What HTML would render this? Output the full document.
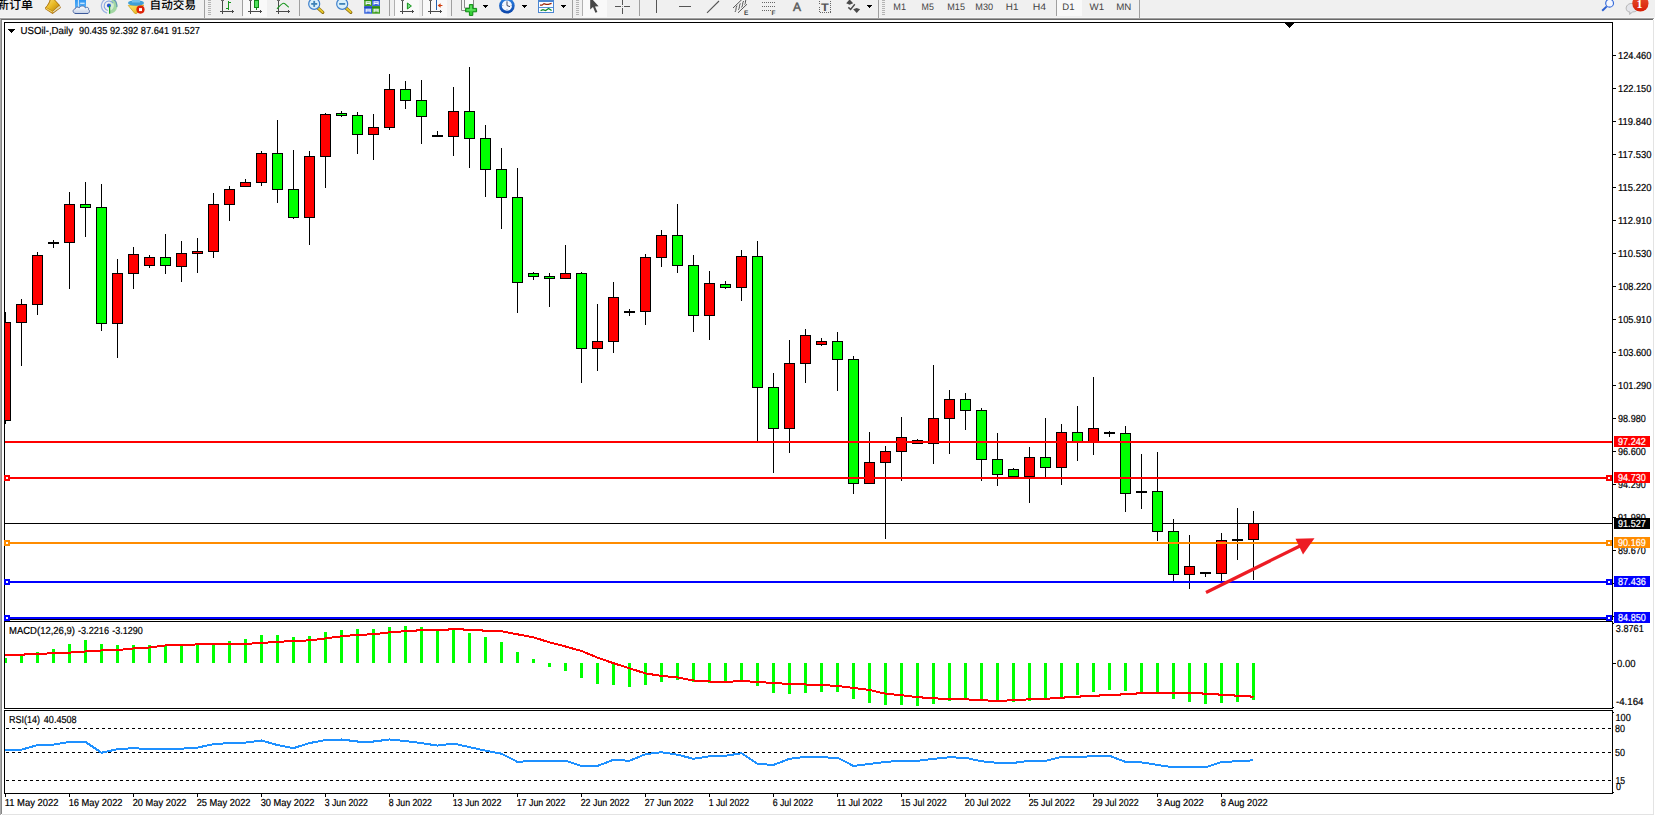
<!DOCTYPE html>
<html lang="zh"><head><meta charset="utf-8"><title>USOil Daily</title>
<style>html,body{margin:0;padding:0;background:#fff;overflow:hidden}svg{display:block}text{white-space:pre}</style></head>
<body>
<svg width="1655" height="816" viewBox="0 0 1655 816" font-family="Liberation Sans, sans-serif" shape-rendering="crispEdges" text-rendering="geometricPrecision">
<rect x="0" y="0" width="1655" height="816" fill="#fff"/>
<rect x="4" y="22" width="1609" height="1" fill="#000"/>
<rect x="4" y="22" width="1" height="598" fill="#000"/>
<rect x="4" y="621" width="1" height="88" fill="#000"/>
<rect x="4" y="710" width="1" height="84" fill="#000"/>
<rect x="1612" y="22" width="1" height="598" fill="#000"/>
<rect x="1612" y="621" width="1" height="88" fill="#000"/>
<rect x="1612" y="710" width="1" height="84" fill="#000"/>
<rect x="4" y="619" width="1609" height="1" fill="#000"/>
<rect x="4" y="621" width="1609" height="1" fill="#000"/>
<rect x="4" y="708" width="1609" height="1" fill="#000"/>
<rect x="4" y="710" width="1609" height="1" fill="#000"/>
<rect x="4" y="793" width="1609" height="1" fill="#000"/>
<polygon points="1284.5,23 1294.5,23 1289.5,28.5" fill="#000"/>
<rect x="5" y="523" width="1607" height="1" fill="#000"/>
<rect x="5" y="312" width="1" height="112" fill="#000"/>
<rect x="5" y="322" width="6" height="99" fill="#000"/>
<rect x="5" y="323" width="5" height="97" fill="#f00"/>
<rect x="21" y="299" width="1" height="67" fill="#000"/>
<rect x="16" y="304" width="11" height="19" fill="#000"/>
<rect x="17" y="305" width="9" height="17" fill="#f00"/>
<rect x="37" y="252" width="1" height="63" fill="#000"/>
<rect x="32" y="255" width="11" height="50" fill="#000"/>
<rect x="33" y="256" width="9" height="48" fill="#f00"/>
<rect x="53" y="240" width="1" height="8" fill="#000"/>
<rect x="48" y="242" width="11" height="2" fill="#000"/>
<rect x="69" y="192" width="1" height="97" fill="#000"/>
<rect x="64" y="204" width="11" height="39" fill="#000"/>
<rect x="65" y="205" width="9" height="37" fill="#f00"/>
<rect x="85" y="182" width="1" height="55" fill="#000"/>
<rect x="80" y="204" width="11" height="4" fill="#000"/>
<rect x="81" y="205" width="9" height="2" fill="#0f0"/>
<rect x="101" y="184" width="1" height="147" fill="#000"/>
<rect x="96" y="207" width="11" height="117" fill="#000"/>
<rect x="97" y="208" width="9" height="115" fill="#0f0"/>
<rect x="117" y="259" width="1" height="99" fill="#000"/>
<rect x="112" y="273" width="11" height="51" fill="#000"/>
<rect x="113" y="274" width="9" height="49" fill="#f00"/>
<rect x="133" y="247" width="1" height="42" fill="#000"/>
<rect x="128" y="254" width="11" height="20" fill="#000"/>
<rect x="129" y="255" width="9" height="18" fill="#f00"/>
<rect x="149" y="255" width="1" height="13" fill="#000"/>
<rect x="144" y="257" width="11" height="9" fill="#000"/>
<rect x="145" y="258" width="9" height="7" fill="#f00"/>
<rect x="165" y="234" width="1" height="40" fill="#000"/>
<rect x="160" y="257" width="11" height="9" fill="#000"/>
<rect x="161" y="258" width="9" height="7" fill="#0f0"/>
<rect x="181" y="241" width="1" height="41" fill="#000"/>
<rect x="176" y="253" width="11" height="14" fill="#000"/>
<rect x="177" y="254" width="9" height="12" fill="#f00"/>
<rect x="197" y="238" width="1" height="35" fill="#000"/>
<rect x="192" y="251" width="11" height="3" fill="#000"/>
<rect x="193" y="252" width="9" height="1" fill="#f00"/>
<rect x="213" y="193" width="1" height="65" fill="#000"/>
<rect x="208" y="204" width="11" height="48" fill="#000"/>
<rect x="209" y="205" width="9" height="46" fill="#f00"/>
<rect x="229" y="186" width="1" height="35" fill="#000"/>
<rect x="224" y="189" width="11" height="16" fill="#000"/>
<rect x="225" y="190" width="9" height="14" fill="#f00"/>
<rect x="245" y="179" width="1" height="8" fill="#000"/>
<rect x="240" y="182" width="11" height="5" fill="#000"/>
<rect x="241" y="183" width="9" height="3" fill="#f00"/>
<rect x="261" y="151" width="1" height="35" fill="#000"/>
<rect x="256" y="153" width="11" height="30" fill="#000"/>
<rect x="257" y="154" width="9" height="28" fill="#f00"/>
<rect x="277" y="120" width="1" height="83" fill="#000"/>
<rect x="272" y="153" width="11" height="37" fill="#000"/>
<rect x="273" y="154" width="9" height="35" fill="#0f0"/>
<rect x="293" y="150" width="1" height="69" fill="#000"/>
<rect x="288" y="189" width="11" height="29" fill="#000"/>
<rect x="289" y="190" width="9" height="27" fill="#0f0"/>
<rect x="309" y="151" width="1" height="94" fill="#000"/>
<rect x="304" y="156" width="11" height="62" fill="#000"/>
<rect x="305" y="157" width="9" height="60" fill="#f00"/>
<rect x="325" y="113" width="1" height="75" fill="#000"/>
<rect x="320" y="114" width="11" height="43" fill="#000"/>
<rect x="321" y="115" width="9" height="41" fill="#f00"/>
<rect x="341" y="111" width="1" height="6" fill="#000"/>
<rect x="336" y="113" width="11" height="3" fill="#000"/>
<rect x="337" y="114" width="9" height="1" fill="#0f0"/>
<rect x="357" y="112" width="1" height="42" fill="#000"/>
<rect x="352" y="115" width="11" height="20" fill="#000"/>
<rect x="353" y="116" width="9" height="18" fill="#0f0"/>
<rect x="373" y="114" width="1" height="46" fill="#000"/>
<rect x="368" y="127" width="11" height="8" fill="#000"/>
<rect x="369" y="128" width="9" height="6" fill="#f00"/>
<rect x="389" y="74" width="1" height="56" fill="#000"/>
<rect x="384" y="89" width="11" height="39" fill="#000"/>
<rect x="385" y="90" width="9" height="37" fill="#f00"/>
<rect x="405" y="81" width="1" height="28" fill="#000"/>
<rect x="400" y="89" width="11" height="12" fill="#000"/>
<rect x="401" y="90" width="9" height="10" fill="#0f0"/>
<rect x="421" y="80" width="1" height="64" fill="#000"/>
<rect x="416" y="100" width="11" height="17" fill="#000"/>
<rect x="417" y="101" width="9" height="15" fill="#0f0"/>
<rect x="437" y="131" width="1" height="6" fill="#000"/>
<rect x="432" y="135" width="11" height="2" fill="#000"/>
<rect x="453" y="87" width="1" height="69" fill="#000"/>
<rect x="448" y="111" width="11" height="26" fill="#000"/>
<rect x="449" y="112" width="9" height="24" fill="#f00"/>
<rect x="469" y="67" width="1" height="101" fill="#000"/>
<rect x="464" y="111" width="11" height="28" fill="#000"/>
<rect x="465" y="112" width="9" height="26" fill="#0f0"/>
<rect x="485" y="125" width="1" height="72" fill="#000"/>
<rect x="480" y="138" width="11" height="32" fill="#000"/>
<rect x="481" y="139" width="9" height="30" fill="#0f0"/>
<rect x="501" y="148" width="1" height="81" fill="#000"/>
<rect x="496" y="169" width="11" height="29" fill="#000"/>
<rect x="497" y="170" width="9" height="27" fill="#0f0"/>
<rect x="517" y="168" width="1" height="145" fill="#000"/>
<rect x="512" y="197" width="11" height="86" fill="#000"/>
<rect x="513" y="198" width="9" height="84" fill="#0f0"/>
<rect x="533" y="272" width="1" height="8" fill="#000"/>
<rect x="528" y="273" width="11" height="4" fill="#000"/>
<rect x="529" y="274" width="9" height="2" fill="#0f0"/>
<rect x="549" y="273" width="1" height="34" fill="#000"/>
<rect x="544" y="276" width="11" height="3" fill="#000"/>
<rect x="545" y="277" width="9" height="1" fill="#0f0"/>
<rect x="565" y="245" width="1" height="34" fill="#000"/>
<rect x="560" y="273" width="11" height="6" fill="#000"/>
<rect x="561" y="274" width="9" height="4" fill="#f00"/>
<rect x="581" y="272" width="1" height="111" fill="#000"/>
<rect x="576" y="273" width="11" height="76" fill="#000"/>
<rect x="577" y="274" width="9" height="74" fill="#0f0"/>
<rect x="597" y="304" width="1" height="67" fill="#000"/>
<rect x="592" y="341" width="11" height="8" fill="#000"/>
<rect x="593" y="342" width="9" height="6" fill="#f00"/>
<rect x="613" y="282" width="1" height="71" fill="#000"/>
<rect x="608" y="297" width="11" height="45" fill="#000"/>
<rect x="609" y="298" width="9" height="43" fill="#f00"/>
<rect x="629" y="309" width="1" height="7" fill="#000"/>
<rect x="624" y="311" width="11" height="2" fill="#000"/>
<rect x="645" y="254" width="1" height="71" fill="#000"/>
<rect x="640" y="257" width="11" height="55" fill="#000"/>
<rect x="641" y="258" width="9" height="53" fill="#f00"/>
<rect x="661" y="230" width="1" height="37" fill="#000"/>
<rect x="656" y="235" width="11" height="23" fill="#000"/>
<rect x="657" y="236" width="9" height="21" fill="#f00"/>
<rect x="677" y="204" width="1" height="69" fill="#000"/>
<rect x="672" y="235" width="11" height="31" fill="#000"/>
<rect x="673" y="236" width="9" height="29" fill="#0f0"/>
<rect x="693" y="255" width="1" height="77" fill="#000"/>
<rect x="688" y="265" width="11" height="51" fill="#000"/>
<rect x="689" y="266" width="9" height="49" fill="#0f0"/>
<rect x="709" y="271" width="1" height="69" fill="#000"/>
<rect x="704" y="283" width="11" height="33" fill="#000"/>
<rect x="705" y="284" width="9" height="31" fill="#f00"/>
<rect x="725" y="281" width="1" height="8" fill="#000"/>
<rect x="720" y="284" width="11" height="4" fill="#000"/>
<rect x="721" y="285" width="9" height="2" fill="#0f0"/>
<rect x="741" y="250" width="1" height="51" fill="#000"/>
<rect x="736" y="256" width="11" height="32" fill="#000"/>
<rect x="737" y="257" width="9" height="30" fill="#f00"/>
<rect x="757" y="241" width="1" height="200" fill="#000"/>
<rect x="752" y="256" width="11" height="132" fill="#000"/>
<rect x="753" y="257" width="9" height="130" fill="#0f0"/>
<rect x="773" y="373" width="1" height="100" fill="#000"/>
<rect x="768" y="387" width="11" height="42" fill="#000"/>
<rect x="769" y="388" width="9" height="40" fill="#0f0"/>
<rect x="789" y="340" width="1" height="113" fill="#000"/>
<rect x="784" y="363" width="11" height="66" fill="#000"/>
<rect x="785" y="364" width="9" height="64" fill="#f00"/>
<rect x="805" y="329" width="1" height="54" fill="#000"/>
<rect x="800" y="335" width="11" height="29" fill="#000"/>
<rect x="801" y="336" width="9" height="27" fill="#f00"/>
<rect x="821" y="338" width="1" height="8" fill="#000"/>
<rect x="816" y="341" width="11" height="4" fill="#000"/>
<rect x="817" y="342" width="9" height="2" fill="#f00"/>
<rect x="837" y="332" width="1" height="59" fill="#000"/>
<rect x="832" y="341" width="11" height="19" fill="#000"/>
<rect x="833" y="342" width="9" height="17" fill="#0f0"/>
<rect x="853" y="356" width="1" height="138" fill="#000"/>
<rect x="848" y="359" width="11" height="125" fill="#000"/>
<rect x="849" y="360" width="9" height="123" fill="#0f0"/>
<rect x="869" y="432" width="1" height="52" fill="#000"/>
<rect x="864" y="462" width="11" height="22" fill="#000"/>
<rect x="865" y="463" width="9" height="20" fill="#f00"/>
<rect x="885" y="446" width="1" height="93" fill="#000"/>
<rect x="880" y="451" width="11" height="12" fill="#000"/>
<rect x="881" y="452" width="9" height="10" fill="#f00"/>
<rect x="901" y="417" width="1" height="64" fill="#000"/>
<rect x="896" y="437" width="11" height="15" fill="#000"/>
<rect x="897" y="438" width="9" height="13" fill="#f00"/>
<rect x="917" y="439" width="1" height="5" fill="#000"/>
<rect x="912" y="440" width="11" height="4" fill="#000"/>
<rect x="913" y="441" width="9" height="2" fill="#f00"/>
<rect x="933" y="365" width="1" height="99" fill="#000"/>
<rect x="928" y="418" width="11" height="26" fill="#000"/>
<rect x="929" y="419" width="9" height="24" fill="#f00"/>
<rect x="949" y="390" width="1" height="64" fill="#000"/>
<rect x="944" y="399" width="11" height="20" fill="#000"/>
<rect x="945" y="400" width="9" height="18" fill="#f00"/>
<rect x="965" y="393" width="1" height="37" fill="#000"/>
<rect x="960" y="399" width="11" height="12" fill="#000"/>
<rect x="961" y="400" width="9" height="10" fill="#0f0"/>
<rect x="981" y="408" width="1" height="73" fill="#000"/>
<rect x="976" y="410" width="11" height="50" fill="#000"/>
<rect x="977" y="411" width="9" height="48" fill="#0f0"/>
<rect x="997" y="433" width="1" height="53" fill="#000"/>
<rect x="992" y="459" width="11" height="16" fill="#000"/>
<rect x="993" y="460" width="9" height="14" fill="#0f0"/>
<rect x="1013" y="468" width="1" height="9" fill="#000"/>
<rect x="1008" y="469" width="11" height="8" fill="#000"/>
<rect x="1009" y="470" width="9" height="6" fill="#0f0"/>
<rect x="1029" y="447" width="1" height="56" fill="#000"/>
<rect x="1024" y="457" width="11" height="20" fill="#000"/>
<rect x="1025" y="458" width="9" height="18" fill="#f00"/>
<rect x="1045" y="418" width="1" height="59" fill="#000"/>
<rect x="1040" y="457" width="11" height="11" fill="#000"/>
<rect x="1041" y="458" width="9" height="9" fill="#0f0"/>
<rect x="1061" y="424" width="1" height="61" fill="#000"/>
<rect x="1056" y="432" width="11" height="36" fill="#000"/>
<rect x="1057" y="433" width="9" height="34" fill="#f00"/>
<rect x="1077" y="406" width="1" height="55" fill="#000"/>
<rect x="1072" y="432" width="11" height="10" fill="#000"/>
<rect x="1073" y="433" width="9" height="8" fill="#0f0"/>
<rect x="1093" y="377" width="1" height="78" fill="#000"/>
<rect x="1088" y="428" width="11" height="14" fill="#000"/>
<rect x="1089" y="429" width="9" height="12" fill="#f00"/>
<rect x="1109" y="431" width="1" height="6" fill="#000"/>
<rect x="1104" y="432" width="11" height="2" fill="#000"/>
<rect x="1125" y="426" width="1" height="86" fill="#000"/>
<rect x="1120" y="433" width="11" height="61" fill="#000"/>
<rect x="1121" y="434" width="9" height="59" fill="#0f0"/>
<rect x="1141" y="454" width="1" height="55" fill="#000"/>
<rect x="1136" y="491" width="11" height="2" fill="#000"/>
<rect x="1157" y="452" width="1" height="89" fill="#000"/>
<rect x="1152" y="491" width="11" height="41" fill="#000"/>
<rect x="1153" y="492" width="9" height="39" fill="#0f0"/>
<rect x="1173" y="519" width="1" height="62" fill="#000"/>
<rect x="1168" y="531" width="11" height="44" fill="#000"/>
<rect x="1169" y="532" width="9" height="42" fill="#0f0"/>
<rect x="1189" y="535" width="1" height="54" fill="#000"/>
<rect x="1184" y="566" width="11" height="9" fill="#000"/>
<rect x="1185" y="567" width="9" height="7" fill="#f00"/>
<rect x="1205" y="572" width="1" height="5" fill="#000"/>
<rect x="1200" y="572" width="11" height="2" fill="#000"/>
<rect x="1221" y="533" width="1" height="50" fill="#000"/>
<rect x="1216" y="540" width="11" height="34" fill="#000"/>
<rect x="1217" y="541" width="9" height="32" fill="#f00"/>
<rect x="1237" y="508" width="1" height="52" fill="#000"/>
<rect x="1232" y="539" width="11" height="2" fill="#000"/>
<rect x="1253" y="511" width="1" height="69" fill="#000"/>
<rect x="1248" y="523" width="11" height="17" fill="#000"/>
<rect x="1249" y="524" width="9" height="15" fill="#f00"/>
<rect x="5" y="441" width="1607" height="2" fill="#f00"/>
<rect x="5" y="477" width="1607" height="2" fill="#f00"/>
<rect x="5" y="542" width="1607" height="2" fill="#ff8c00"/>
<rect x="5" y="581" width="1607" height="2" fill="#00f"/>
<rect x="5" y="617" width="1607" height="2" fill="#00f"/>
<rect x="4" y="475" width="6" height="6" fill="#f00"/>
<rect x="6" y="477" width="2" height="2" fill="#fff"/>
<rect x="1606" y="475" width="6" height="6" fill="#f00"/>
<rect x="1608" y="477" width="2" height="2" fill="#fff"/>
<rect x="4" y="540" width="6" height="6" fill="#ff8c00"/>
<rect x="6" y="542" width="2" height="2" fill="#fff"/>
<rect x="1606" y="540" width="6" height="6" fill="#ff8c00"/>
<rect x="1608" y="542" width="2" height="2" fill="#fff"/>
<rect x="4" y="579" width="6" height="6" fill="#00f"/>
<rect x="6" y="581" width="2" height="2" fill="#fff"/>
<rect x="1606" y="579" width="6" height="6" fill="#00f"/>
<rect x="1608" y="581" width="2" height="2" fill="#fff"/>
<rect x="4" y="615" width="6" height="6" fill="#00f"/>
<rect x="6" y="617" width="2" height="2" fill="#fff"/>
<rect x="1606" y="615" width="6" height="6" fill="#00f"/>
<rect x="1608" y="617" width="2" height="2" fill="#fff"/>
<line x1="1206" y1="592.5" x2="1303" y2="544.5" stroke="#ed1c24" stroke-width="3.2" shape-rendering="geometricPrecision"/>
<polygon points="1295.5,538.8 1314.5,538.3 1303,554.5" fill="#ed1c24" shape-rendering="geometricPrecision"/>
<rect x="5" y="658" width="2" height="5" fill="#0f0"/>
<rect x="20" y="655" width="3" height="8" fill="#0f0"/>
<rect x="36" y="652" width="3" height="11" fill="#0f0"/>
<rect x="52" y="649" width="3" height="14" fill="#0f0"/>
<rect x="68" y="644" width="3" height="19" fill="#0f0"/>
<rect x="84" y="640" width="3" height="23" fill="#0f0"/>
<rect x="100" y="644" width="3" height="19" fill="#0f0"/>
<rect x="116" y="645" width="3" height="18" fill="#0f0"/>
<rect x="132" y="645" width="3" height="18" fill="#0f0"/>
<rect x="148" y="645" width="3" height="18" fill="#0f0"/>
<rect x="164" y="645" width="3" height="18" fill="#0f0"/>
<rect x="180" y="646" width="3" height="17" fill="#0f0"/>
<rect x="196" y="645" width="3" height="18" fill="#0f0"/>
<rect x="212" y="644" width="3" height="19" fill="#0f0"/>
<rect x="228" y="641" width="3" height="22" fill="#0f0"/>
<rect x="244" y="639" width="3" height="24" fill="#0f0"/>
<rect x="260" y="635" width="3" height="28" fill="#0f0"/>
<rect x="276" y="635" width="3" height="28" fill="#0f0"/>
<rect x="292" y="637" width="3" height="26" fill="#0f0"/>
<rect x="308" y="636" width="3" height="27" fill="#0f0"/>
<rect x="324" y="632" width="3" height="31" fill="#0f0"/>
<rect x="340" y="630" width="3" height="33" fill="#0f0"/>
<rect x="356" y="629" width="3" height="34" fill="#0f0"/>
<rect x="372" y="629" width="3" height="34" fill="#0f0"/>
<rect x="388" y="627" width="3" height="36" fill="#0f0"/>
<rect x="404" y="626" width="3" height="37" fill="#0f0"/>
<rect x="420" y="627" width="3" height="36" fill="#0f0"/>
<rect x="436" y="631" width="3" height="32" fill="#0f0"/>
<rect x="452" y="630" width="3" height="33" fill="#0f0"/>
<rect x="468" y="633" width="3" height="30" fill="#0f0"/>
<rect x="484" y="637" width="3" height="26" fill="#0f0"/>
<rect x="500" y="642" width="3" height="21" fill="#0f0"/>
<rect x="516" y="652" width="3" height="11" fill="#0f0"/>
<rect x="532" y="659" width="3" height="4" fill="#0f0"/>
<rect x="548" y="663" width="3" height="4" fill="#0f0"/>
<rect x="564" y="663" width="3" height="8" fill="#0f0"/>
<rect x="580" y="663" width="3" height="15" fill="#0f0"/>
<rect x="596" y="663" width="3" height="21" fill="#0f0"/>
<rect x="612" y="663" width="3" height="22" fill="#0f0"/>
<rect x="628" y="663" width="3" height="24" fill="#0f0"/>
<rect x="644" y="663" width="3" height="22" fill="#0f0"/>
<rect x="660" y="663" width="3" height="19" fill="#0f0"/>
<rect x="676" y="663" width="3" height="17" fill="#0f0"/>
<rect x="692" y="663" width="3" height="19" fill="#0f0"/>
<rect x="708" y="663" width="3" height="20" fill="#0f0"/>
<rect x="724" y="663" width="3" height="20" fill="#0f0"/>
<rect x="740" y="663" width="3" height="17" fill="#0f0"/>
<rect x="756" y="663" width="3" height="23" fill="#0f0"/>
<rect x="772" y="663" width="3" height="30" fill="#0f0"/>
<rect x="788" y="663" width="3" height="31" fill="#0f0"/>
<rect x="804" y="663" width="3" height="30" fill="#0f0"/>
<rect x="820" y="663" width="3" height="29" fill="#0f0"/>
<rect x="836" y="663" width="3" height="29" fill="#0f0"/>
<rect x="852" y="663" width="3" height="36" fill="#0f0"/>
<rect x="868" y="663" width="3" height="40" fill="#0f0"/>
<rect x="884" y="663" width="3" height="42" fill="#0f0"/>
<rect x="900" y="663" width="3" height="42" fill="#0f0"/>
<rect x="916" y="663" width="3" height="43" fill="#0f0"/>
<rect x="932" y="663" width="3" height="41" fill="#0f0"/>
<rect x="948" y="663" width="3" height="38" fill="#0f0"/>
<rect x="964" y="663" width="3" height="36" fill="#0f0"/>
<rect x="980" y="663" width="3" height="38" fill="#0f0"/>
<rect x="996" y="663" width="3" height="39" fill="#0f0"/>
<rect x="1012" y="663" width="3" height="39" fill="#0f0"/>
<rect x="1028" y="663" width="3" height="38" fill="#0f0"/>
<rect x="1044" y="663" width="3" height="37" fill="#0f0"/>
<rect x="1060" y="663" width="3" height="34" fill="#0f0"/>
<rect x="1076" y="663" width="3" height="32" fill="#0f0"/>
<rect x="1092" y="663" width="3" height="29" fill="#0f0"/>
<rect x="1108" y="663" width="3" height="27" fill="#0f0"/>
<rect x="1124" y="663" width="3" height="28" fill="#0f0"/>
<rect x="1140" y="663" width="3" height="30" fill="#0f0"/>
<rect x="1156" y="663" width="3" height="31" fill="#0f0"/>
<rect x="1172" y="663" width="3" height="36" fill="#0f0"/>
<rect x="1188" y="663" width="3" height="39" fill="#0f0"/>
<rect x="1204" y="663" width="3" height="41" fill="#0f0"/>
<rect x="1220" y="663" width="3" height="40" fill="#0f0"/>
<rect x="1236" y="663" width="3" height="39" fill="#0f0"/>
<rect x="1252" y="663" width="3" height="37" fill="#0f0"/>
<polyline points="5.5,655.1 21.5,654.6 37.5,654.1 53.5,653.1 69.5,652.6 85.5,651.5 101.5,650.5 117.5,650.0 133.5,648.5 149.5,647.5 165.5,645.5 181.5,645.0 197.5,644.4 213.5,643.9 229.5,643.9 245.5,643.9 261.5,642.9 277.5,641.9 293.5,640.9 309.5,640.4 325.5,638.4 341.5,636.3 357.5,634.8 373.5,634.3 389.5,632.3 405.5,631.2 421.5,630.2 437.5,630.2 453.5,629.2 469.5,629.7 485.5,630.7 501.5,631.2 517.5,634.3 533.5,637.3 549.5,642.4 565.5,646.5 581.5,651.0 597.5,657.6 613.5,663.2 629.5,668.3 645.5,673.4 661.5,675.9 677.5,677.4 693.5,680.5 709.5,681.5 725.5,682.0 741.5,681.0 757.5,682.0 773.5,683.0 789.5,684.0 805.5,684.5 821.5,685.0 837.5,686.0 853.5,688.0 869.5,690.0 885.5,693.7 901.5,695.2 917.5,697.2 933.5,698.2 949.5,699.3 965.5,699.3 981.5,700.3 997.5,700.8 1013.5,700.3 1029.5,699.3 1045.5,698.8 1061.5,697.7 1077.5,696.7 1093.5,695.7 1109.5,695.2 1125.5,694.2 1141.5,693.2 1157.5,692.7 1173.5,692.7 1189.5,692.7 1205.5,693.7 1221.5,694.7 1237.5,695.7 1253.5,696.7" fill="none" stroke="#f00" stroke-width="2" shape-rendering="crispEdges"/>
<line x1="6" y1="728.5" x2="1612" y2="728.5" stroke="#000" stroke-width="1" stroke-dasharray="3 3" shape-rendering="crispEdges"/>
<line x1="6" y1="752.5" x2="1612" y2="752.5" stroke="#000" stroke-width="1" stroke-dasharray="3 3" shape-rendering="crispEdges"/>
<line x1="6" y1="780.5" x2="1612" y2="780.5" stroke="#000" stroke-width="1" stroke-dasharray="3 3" shape-rendering="crispEdges"/>
<polyline points="5.5,750.2 21.5,749.7 37.5,745.1 53.5,744.6 69.5,742.0 85.5,742.0 101.5,752.7 117.5,749.2 133.5,748.1 149.5,749.2 165.5,749.2 181.5,748.7 197.5,747.6 213.5,744.1 229.5,743.1 245.5,742.6 261.5,740.5 277.5,745.1 293.5,748.1 309.5,743.1 325.5,740.0 341.5,739.5 357.5,741.5 373.5,741.5 389.5,739.5 405.5,741.0 421.5,743.1 437.5,745.6 453.5,743.6 469.5,747.1 485.5,750.7 501.5,753.7 517.5,761.9 533.5,760.8 549.5,760.8 565.5,760.8 581.5,765.9 597.5,765.9 613.5,759.8 629.5,760.8 645.5,754.2 661.5,752.2 677.5,754.7 693.5,758.8 709.5,756.3 725.5,755.8 741.5,753.2 757.5,763.9 773.5,764.9 789.5,758.8 805.5,756.8 821.5,757.3 837.5,757.8 853.5,765.9 869.5,763.9 885.5,761.9 901.5,760.8 917.5,760.8 933.5,758.8 949.5,757.3 965.5,757.8 981.5,761.3 997.5,762.9 1013.5,762.9 1029.5,760.8 1045.5,760.8 1061.5,756.8 1077.5,756.8 1093.5,756.3 1109.5,755.8 1125.5,761.9 1141.5,762.4 1157.5,764.9 1173.5,767.4 1189.5,767.4 1205.5,767.4 1221.5,761.9 1237.5,761.3 1253.5,760.3" fill="none" stroke="#1e90ff" stroke-width="2" shape-rendering="crispEdges"/>
<rect x="1613" y="55" width="3" height="1" fill="#000"/>
<text x="1618" y="59" font-size="10.2" fill="#000" stroke="#000" stroke-width="0.2" textLength="33.4" lengthAdjust="spacingAndGlyphs">124.460</text>
<rect x="1613" y="88" width="3" height="1" fill="#000"/>
<text x="1618" y="92" font-size="10.2" fill="#000" stroke="#000" stroke-width="0.2" textLength="33.4" lengthAdjust="spacingAndGlyphs">122.150</text>
<rect x="1613" y="121" width="3" height="1" fill="#000"/>
<text x="1618" y="125" font-size="10.2" fill="#000" stroke="#000" stroke-width="0.2" textLength="33.4" lengthAdjust="spacingAndGlyphs">119.840</text>
<rect x="1613" y="154" width="3" height="1" fill="#000"/>
<text x="1618" y="158" font-size="10.2" fill="#000" stroke="#000" stroke-width="0.2" textLength="33.4" lengthAdjust="spacingAndGlyphs">117.530</text>
<rect x="1613" y="187" width="3" height="1" fill="#000"/>
<text x="1618" y="191" font-size="10.2" fill="#000" stroke="#000" stroke-width="0.2" textLength="33.4" lengthAdjust="spacingAndGlyphs">115.220</text>
<rect x="1613" y="220" width="3" height="1" fill="#000"/>
<text x="1618" y="224" font-size="10.2" fill="#000" stroke="#000" stroke-width="0.2" textLength="33.4" lengthAdjust="spacingAndGlyphs">112.910</text>
<rect x="1613" y="253" width="3" height="1" fill="#000"/>
<text x="1618" y="257" font-size="10.2" fill="#000" stroke="#000" stroke-width="0.2" textLength="33.4" lengthAdjust="spacingAndGlyphs">110.530</text>
<rect x="1613" y="286" width="3" height="1" fill="#000"/>
<text x="1618" y="290" font-size="10.2" fill="#000" stroke="#000" stroke-width="0.2" textLength="33.4" lengthAdjust="spacingAndGlyphs">108.220</text>
<rect x="1613" y="319" width="3" height="1" fill="#000"/>
<text x="1618" y="323" font-size="10.2" fill="#000" stroke="#000" stroke-width="0.2" textLength="33.4" lengthAdjust="spacingAndGlyphs">105.910</text>
<rect x="1613" y="352" width="3" height="1" fill="#000"/>
<text x="1618" y="356" font-size="10.2" fill="#000" stroke="#000" stroke-width="0.2" textLength="33.4" lengthAdjust="spacingAndGlyphs">103.600</text>
<rect x="1613" y="385" width="3" height="1" fill="#000"/>
<text x="1618" y="389" font-size="10.2" fill="#000" stroke="#000" stroke-width="0.2" textLength="33.4" lengthAdjust="spacingAndGlyphs">101.290</text>
<rect x="1613" y="418" width="3" height="1" fill="#000"/>
<text x="1618" y="422" font-size="10.2" fill="#000" stroke="#000" stroke-width="0.2" textLength="27.8" lengthAdjust="spacingAndGlyphs">98.980</text>
<rect x="1613" y="451" width="3" height="1" fill="#000"/>
<text x="1618" y="455" font-size="10.2" fill="#000" stroke="#000" stroke-width="0.2" textLength="27.8" lengthAdjust="spacingAndGlyphs">96.600</text>
<rect x="1613" y="484" width="3" height="1" fill="#000"/>
<text x="1618" y="488" font-size="10.2" fill="#000" stroke="#000" stroke-width="0.2" textLength="27.8" lengthAdjust="spacingAndGlyphs">94.290</text>
<rect x="1613" y="517" width="3" height="1" fill="#000"/>
<text x="1618" y="521" font-size="10.2" fill="#000" stroke="#000" stroke-width="0.2" textLength="27.8" lengthAdjust="spacingAndGlyphs">91.980</text>
<rect x="1613" y="550" width="3" height="1" fill="#000"/>
<text x="1618" y="554" font-size="10.2" fill="#000" stroke="#000" stroke-width="0.2" textLength="27.8" lengthAdjust="spacingAndGlyphs">89.670</text>
<rect x="1613" y="583" width="3" height="1" fill="#000"/>
<rect x="1613" y="616" width="3" height="1" fill="#000"/>
<rect x="1613" y="623" width="1" height="1" fill="#000"/>
<rect x="1614" y="436" width="36" height="11" fill="#f00"/>
<text x="1618" y="445" font-size="10.2" fill="#fff" stroke="#fff" stroke-width="0.2" textLength="27.8" lengthAdjust="spacingAndGlyphs">97.242</text>
<rect x="1614" y="472" width="36" height="11" fill="#f00"/>
<text x="1618" y="481" font-size="10.2" fill="#fff" stroke="#fff" stroke-width="0.2" textLength="27.8" lengthAdjust="spacingAndGlyphs">94.730</text>
<rect x="1614" y="518" width="36" height="11" fill="#000"/>
<text x="1618" y="527" font-size="10.2" fill="#fff" stroke="#fff" stroke-width="0.2" textLength="27.8" lengthAdjust="spacingAndGlyphs">91.527</text>
<rect x="1614" y="537" width="36" height="11" fill="#ff8c00"/>
<text x="1618" y="546" font-size="10.2" fill="#fff" stroke="#fff" stroke-width="0.2" textLength="27.8" lengthAdjust="spacingAndGlyphs">90.169</text>
<rect x="1614" y="576" width="36" height="11" fill="#00f"/>
<text x="1618" y="585" font-size="10.2" fill="#fff" stroke="#fff" stroke-width="0.2" textLength="27.8" lengthAdjust="spacingAndGlyphs">87.436</text>
<rect x="1614" y="612" width="36" height="11" fill="#00f"/>
<text x="1618" y="621" font-size="10.2" fill="#fff" stroke="#fff" stroke-width="0.2" textLength="27.8" lengthAdjust="spacingAndGlyphs">84.850</text>
<text x="1615.8" y="632" font-size="10.2" fill="#000" stroke="#000" stroke-width="0.2" textLength="28" lengthAdjust="spacingAndGlyphs">3.8761</text>
<rect x="1613" y="663" width="3" height="1" fill="#000"/>
<text x="1617" y="667" font-size="10.2" fill="#000" stroke="#000" stroke-width="0.2" textLength="18.5" lengthAdjust="spacingAndGlyphs">0.00</text>
<text x="1616" y="705" font-size="10.2" fill="#000" stroke="#000" stroke-width="0.2" textLength="27.5" lengthAdjust="spacingAndGlyphs">-4.164</text>
<rect x="1613" y="707" width="1" height="1" fill="#000"/>
<rect x="1613" y="712" width="1" height="1" fill="#000"/>
<rect x="1613" y="792" width="1" height="1" fill="#000"/>
<text x="1615.4" y="721" font-size="10.2" fill="#000" stroke="#000" stroke-width="0.2" textLength="15.4" lengthAdjust="spacingAndGlyphs">100</text>
<text x="1615" y="732" font-size="10.2" fill="#000" stroke="#000" stroke-width="0.2" textLength="10" lengthAdjust="spacingAndGlyphs">80</text>
<text x="1615" y="756" font-size="10.2" fill="#000" stroke="#000" stroke-width="0.2" textLength="10" lengthAdjust="spacingAndGlyphs">50</text>
<text x="1615.4" y="784" font-size="10.2" fill="#000" stroke="#000" stroke-width="0.2" textLength="9.6" lengthAdjust="spacingAndGlyphs">15</text>
<text x="1616" y="790" font-size="10.2" fill="#000" stroke="#000" stroke-width="0.2" textLength="5" lengthAdjust="spacingAndGlyphs">0</text>
<rect x="8" y="29" width="7" height="1" fill="#000"/>
<rect x="9" y="30" width="5" height="1" fill="#000"/>
<rect x="10" y="31" width="3" height="1" fill="#000"/>
<rect x="11" y="32" width="1" height="1" fill="#000"/>
<text x="20.5" y="34" font-size="10.2" fill="#000" stroke="#000" stroke-width="0.2" textLength="52.5" lengthAdjust="spacingAndGlyphs">USOil-,Daily</text>
<text x="79" y="34" font-size="10.2" fill="#000" stroke="#000" stroke-width="0.2" textLength="121" lengthAdjust="spacingAndGlyphs">90.435 92.392 87.641 91.527</text>
<text x="9" y="634" font-size="10.2" fill="#000" stroke="#000" stroke-width="0.2" textLength="66" lengthAdjust="spacingAndGlyphs">MACD(12,26,9)</text>
<text x="78" y="634" font-size="10.2" fill="#000" stroke="#000" stroke-width="0.2" textLength="31" lengthAdjust="spacingAndGlyphs">-3.2216</text>
<text x="112.3" y="634" font-size="10.2" fill="#000" stroke="#000" stroke-width="0.2" textLength="30.6" lengthAdjust="spacingAndGlyphs">-3.1290</text>
<text x="9" y="723" font-size="10.2" fill="#000" stroke="#000" stroke-width="0.2" textLength="31" lengthAdjust="spacingAndGlyphs">RSI(14)</text>
<text x="43.8" y="723" font-size="10.2" fill="#000" stroke="#000" stroke-width="0.2" textLength="32.8" lengthAdjust="spacingAndGlyphs">40.4508</text>
<rect x="5" y="794" width="1" height="3" fill="#000"/>
<text x="4.7" y="806" font-size="10.2" fill="#000" stroke="#000" stroke-width="0.2" textLength="53.8" lengthAdjust="spacingAndGlyphs">11 May 2022</text>
<rect x="69" y="794" width="1" height="3" fill="#000"/>
<text x="68.7" y="806" font-size="10.2" fill="#000" stroke="#000" stroke-width="0.2" textLength="53.8" lengthAdjust="spacingAndGlyphs">16 May 2022</text>
<rect x="133" y="794" width="1" height="3" fill="#000"/>
<text x="132.7" y="806" font-size="10.2" fill="#000" stroke="#000" stroke-width="0.2" textLength="53.8" lengthAdjust="spacingAndGlyphs">20 May 2022</text>
<rect x="197" y="794" width="1" height="3" fill="#000"/>
<text x="196.7" y="806" font-size="10.2" fill="#000" stroke="#000" stroke-width="0.2" textLength="53.8" lengthAdjust="spacingAndGlyphs">25 May 2022</text>
<rect x="261" y="794" width="1" height="3" fill="#000"/>
<text x="260.7" y="806" font-size="10.2" fill="#000" stroke="#000" stroke-width="0.2" textLength="53.8" lengthAdjust="spacingAndGlyphs">30 May 2022</text>
<rect x="325" y="794" width="1" height="3" fill="#000"/>
<text x="324.7" y="806" font-size="10.2" fill="#000" stroke="#000" stroke-width="0.2" textLength="43.2" lengthAdjust="spacingAndGlyphs">3 Jun 2022</text>
<rect x="389" y="794" width="1" height="3" fill="#000"/>
<text x="388.7" y="806" font-size="10.2" fill="#000" stroke="#000" stroke-width="0.2" textLength="43.2" lengthAdjust="spacingAndGlyphs">8 Jun 2022</text>
<rect x="453" y="794" width="1" height="3" fill="#000"/>
<text x="452.7" y="806" font-size="10.2" fill="#000" stroke="#000" stroke-width="0.2" textLength="48.7" lengthAdjust="spacingAndGlyphs">13 Jun 2022</text>
<rect x="517" y="794" width="1" height="3" fill="#000"/>
<text x="516.7" y="806" font-size="10.2" fill="#000" stroke="#000" stroke-width="0.2" textLength="48.7" lengthAdjust="spacingAndGlyphs">17 Jun 2022</text>
<rect x="581" y="794" width="1" height="3" fill="#000"/>
<text x="580.7" y="806" font-size="10.2" fill="#000" stroke="#000" stroke-width="0.2" textLength="48.7" lengthAdjust="spacingAndGlyphs">22 Jun 2022</text>
<rect x="645" y="794" width="1" height="3" fill="#000"/>
<text x="644.7" y="806" font-size="10.2" fill="#000" stroke="#000" stroke-width="0.2" textLength="48.7" lengthAdjust="spacingAndGlyphs">27 Jun 2022</text>
<rect x="709" y="794" width="1" height="3" fill="#000"/>
<text x="708.7" y="806" font-size="10.2" fill="#000" stroke="#000" stroke-width="0.2" textLength="40.4" lengthAdjust="spacingAndGlyphs">1 Jul 2022</text>
<rect x="773" y="794" width="1" height="3" fill="#000"/>
<text x="772.7" y="806" font-size="10.2" fill="#000" stroke="#000" stroke-width="0.2" textLength="40.4" lengthAdjust="spacingAndGlyphs">6 Jul 2022</text>
<rect x="837" y="794" width="1" height="3" fill="#000"/>
<text x="836.7" y="806" font-size="10.2" fill="#000" stroke="#000" stroke-width="0.2" textLength="45.9" lengthAdjust="spacingAndGlyphs">11 Jul 2022</text>
<rect x="901" y="794" width="1" height="3" fill="#000"/>
<text x="900.7" y="806" font-size="10.2" fill="#000" stroke="#000" stroke-width="0.2" textLength="45.9" lengthAdjust="spacingAndGlyphs">15 Jul 2022</text>
<rect x="965" y="794" width="1" height="3" fill="#000"/>
<text x="964.7" y="806" font-size="10.2" fill="#000" stroke="#000" stroke-width="0.2" textLength="45.9" lengthAdjust="spacingAndGlyphs">20 Jul 2022</text>
<rect x="1029" y="794" width="1" height="3" fill="#000"/>
<text x="1028.7" y="806" font-size="10.2" fill="#000" stroke="#000" stroke-width="0.2" textLength="45.9" lengthAdjust="spacingAndGlyphs">25 Jul 2022</text>
<rect x="1093" y="794" width="1" height="3" fill="#000"/>
<text x="1092.7" y="806" font-size="10.2" fill="#000" stroke="#000" stroke-width="0.2" textLength="45.9" lengthAdjust="spacingAndGlyphs">29 Jul 2022</text>
<rect x="1157" y="794" width="1" height="3" fill="#000"/>
<text x="1156.7" y="806" font-size="10.2" fill="#000" stroke="#000" stroke-width="0.2" textLength="47.1" lengthAdjust="spacingAndGlyphs">3 Aug 2022</text>
<rect x="1221" y="794" width="1" height="3" fill="#000"/>
<text x="1220.7" y="806" font-size="10.2" fill="#000" stroke="#000" stroke-width="0.2" textLength="47.1" lengthAdjust="spacingAndGlyphs">8 Aug 2022</text>
<rect x="0" y="0" width="1655" height="17" fill="#f0f0f0"/>
<rect x="0" y="17" width="1655" height="1" fill="#f6f6f6"/>
<rect x="0" y="18" width="1654" height="1" fill="#a0a0a0"/>
<rect x="0" y="19" width="1653" height="1" fill="#696969"/>
<rect x="0" y="19" width="1" height="796" fill="#a9a9a9"/>
<rect x="1" y="20" width="1" height="794" fill="#878787"/>
<rect x="1653" y="20" width="1" height="795" fill="#e3e3e3"/>
<rect x="2" y="814" width="1652" height="1" fill="#e3e3e3"/>
<defs>
<linearGradient id="gold" x1="0" y1="0" x2="1" y2="1"><stop offset="0" stop-color="#fbe27a"/><stop offset="0.5" stop-color="#e8b923"/><stop offset="1" stop-color="#b27a0c"/></linearGradient>
<linearGradient id="cloud" x1="0" y1="0" x2="0" y2="1"><stop offset="0" stop-color="#ffffff"/><stop offset="1" stop-color="#c3d0e6"/></linearGradient>
<linearGradient id="bluedoc" x1="0" y1="0" x2="0" y2="1"><stop offset="0" stop-color="#1f8bf0"/><stop offset="1" stop-color="#5db4f7"/></linearGradient>
<linearGradient id="redb" x1="0" y1="0" x2="0" y2="1"><stop offset="0" stop-color="#e8512e"/><stop offset="1" stop-color="#d81e05"/></linearGradient>
<linearGradient id="clock" x1="0" y1="0" x2="0" y2="1"><stop offset="0" stop-color="#2f86e6"/><stop offset="1" stop-color="#0c44a8"/></linearGradient>
<linearGradient id="yel" x1="0" y1="0" x2="1" y2="1"><stop offset="0" stop-color="#ffe96a"/><stop offset="1" stop-color="#e0a812"/></linearGradient>
</defs>
<g shape-rendering="auto">
<text x="-3" y="8.6" font-size="12" font-weight="500" font-family="Liberation Sans, Noto Sans CJK SC, sans-serif" fill="#000">新订单</text>
<path d="M50,-1 C49,3 47,6 45,7.8 L45.4,9.2 L52.6,13.9 L60.9,7.8 L59.6,5 L54,-1 Z" fill="#a86c0c"/>
<path d="M53.2,12.6 L60.2,7.4 L59.4,5.6 L52.8,10.8 Z" fill="#e6dcae"/>
<path d="M50.6,-1 C49.6,3 47.6,5.8 45.8,7.4 L52.6,11.4 L59.2,5.2 L53.6,-1 Z" fill="url(#gold)" stroke="#b07a10" stroke-width="0.7"/>
<path d="M45.8,7.6 L52.6,11.6 L52.7,13 L45.9,8.9 Z" fill="#f3cf58"/>
<rect x="75" y="-3" width="11" height="11" fill="url(#bluedoc)"/>
<rect x="77.9" y="-3" width="0.9" height="10" fill="#e8f4ff"/><rect x="80.2" y="2.7" width="4.4" height="1.1" fill="#e8f4ff"/>
<path d="M76,13.5 C72.4,13.5 72.2,9.3 75.2,8.9 C75.4,6.8 78.2,6.4 79.2,7.8 C80.2,5.4 84.6,5.4 85.4,7.9 C86.8,6.6 89.4,7.6 88.6,9.6 C90.2,10.6 89.6,13.5 87.2,13.5 Z" fill="url(#cloud)" stroke="#4a64a0" stroke-width="0.9"/>
<path d="M75,13.5 L88,13.5" stroke="#3d5a9a" stroke-width="1" fill="none"/>
<g fill="none">
<path d="M109.4,5.8 L109.4,13.8 A8,8 0 0 0 112.4,-1.6 Z" fill="#8fcf90" opacity="0.8"/>
<path d="M109.4,5.8 L109.4,10.6 A5,5 0 0 0 111.2,1.2 Z" fill="#d4ecd2"/>
<circle cx="109" cy="5.8" r="7.6" stroke="#7f9fe0" stroke-width="1.2" stroke-dasharray="28 20" transform="rotate(105 109 5.8)" opacity="0.75"/>
<circle cx="109" cy="5.8" r="4.8" stroke="#6a8fdc" stroke-width="1.1" stroke-dasharray="18 13" transform="rotate(105 109 5.8)" opacity="0.8"/>
<path d="M112.4,-1.4 A8,8 0 0 1 116.8,7" stroke="#4f86b4" stroke-width="1.1" opacity="0.8"/>
<circle cx="108.9" cy="5.6" r="2" fill="#2558cc"/>
<rect x="109" y="6" width="1.2" height="7.7" fill="#1fa628"/>
</g>
<path d="M128.2,5.4 L143.8,5 L136.6,13.6 L134.8,13.4 Z" fill="url(#yel)" stroke="#c89a14" stroke-width="0.7"/>
<ellipse cx="136" cy="3" rx="8" ry="2.7" fill="#3f9fd6"/><path d="M131.8,2.6 C132.2,-5 139.8,-5 140.2,2.6 Z" fill="#74c0ec"/>
<circle cx="140.5" cy="9.6" r="4.1" fill="#dd2208"/><rect x="139" y="8.1" width="3" height="3" fill="#fff"/>
<text x="149.6" y="8.6" font-size="11.6" font-weight="500" font-family="Liberation Sans, Noto Sans CJK SC, sans-serif" fill="#000">自动交易</text>
</g>
<g shape-rendering="crispEdges">
<rect x="204" y="0" width="1" height="18" fill="#a0a0a0"/>
<rect x="208" y="0" width="3" height="1" fill="#b4b4b4"/>
<rect x="208" y="2" width="3" height="1" fill="#b4b4b4"/>
<rect x="208" y="4" width="3" height="1" fill="#b4b4b4"/>
<rect x="208" y="6" width="3" height="1" fill="#b4b4b4"/>
<rect x="208" y="8" width="3" height="1" fill="#b4b4b4"/>
<rect x="208" y="10" width="3" height="1" fill="#b4b4b4"/>
<rect x="208" y="12" width="3" height="1" fill="#b4b4b4"/>
<rect x="208" y="14" width="3" height="1" fill="#b4b4b4"/>
<rect x="222" y="0" width="1" height="14" fill="#4a4a4a"/><rect x="220" y="11" width="14" height="1" fill="#4a4a4a"/>
<rect x="232" y="10" width="1" height="3" fill="#4a4a4a"/><rect x="221" y="0" width="3" height="1" fill="#6a6a6a"/>
<rect x="228" y="1" width="1" height="9" fill="#18961e"/><rect x="229" y="2" width="2" height="1" fill="#18961e"/><rect x="226" y="8" width="2" height="1" fill="#18961e"/>
<rect x="242" y="0" width="1" height="16" fill="#a0a0a0"/>
<rect x="243" y="0" width="24" height="17" fill="#f9f9f9"/>
<rect x="250" y="0" width="1" height="14" fill="#4a4a4a"/><rect x="248" y="11" width="14" height="1" fill="#4a4a4a"/>
<rect x="260" y="10" width="1" height="3" fill="#4a4a4a"/><rect x="249" y="0" width="3" height="1" fill="#6a6a6a"/>
<rect x="254" y="0" width="5" height="8" fill="#0c8a16"/><rect x="255" y="1" width="3" height="6" fill="#4fe05c"/><rect x="256" y="8" width="1" height="2" fill="#0c8a16"/>
<rect x="278" y="0" width="1" height="14" fill="#4a4a4a"/><rect x="276" y="11" width="14" height="1" fill="#4a4a4a"/>
<rect x="288" y="10" width="1" height="3" fill="#4a4a4a"/><rect x="277" y="0" width="3" height="1" fill="#6a6a6a"/>
</g><g shape-rendering="auto">
<path d="M277,8.8 C279.4,6.6 281.6,3.2 283.7,3.3 C285.4,3.4 286.8,6.2 288.8,7.2" fill="none" stroke="#18961e" stroke-width="1.1"/>
</g><g shape-rendering="crispEdges">
<rect x="299" y="0" width="1" height="16" fill="#a0a0a0"/>
</g><g shape-rendering="auto">
<line x1="318.2" y1="8.2" x2="322.8" y2="12.4" stroke="#8a6a10" stroke-width="3.2" stroke-linecap="round"/>
<line x1="318.4" y1="8.2" x2="322.59999999999997" y2="12" stroke="#e6c82a" stroke-width="1.9" stroke-linecap="round"/>
<circle cx="314.2" cy="3.9" r="5.5" fill="#daf0fb" stroke="#3f80cc" stroke-width="1.2"/>
<rect x="311.2" y="3" width="6" height="1.8" fill="#3f84b8"/>
<rect x="313.3" y="0.9" width="1.8" height="6" fill="#3f84b8"/>
<line x1="346.2" y1="8.2" x2="350.8" y2="12.4" stroke="#8a6a10" stroke-width="3.2" stroke-linecap="round"/>
<line x1="346.4" y1="8.2" x2="350.59999999999997" y2="12" stroke="#e6c82a" stroke-width="1.9" stroke-linecap="round"/>
<circle cx="342.2" cy="3.9" r="5.5" fill="#daf0fb" stroke="#3f80cc" stroke-width="1.2"/>
<rect x="339.2" y="3" width="6" height="1.8" fill="#3f84b8"/>
<rect x="364.2" y="-1.2" width="7.9" height="7.4" fill="#3f9f1f"/><rect x="364.2" y="-1.2" width="7.9" height="2" fill="#2c8a10"/>
<path d="M365.59999999999997,1.2 h5.2 v3.6 h-1 v-0.9 h-3.2 v0.9 h-1 Z" fill="#f2f7ff"/><rect x="366.59999999999997" y="2.0999999999999996" width="3.2" height="0.8" fill="#3f9f1f" opacity="0.6"/>
<rect x="372.1" y="-1.2" width="7.9" height="7.4" fill="#3a66dc"/><rect x="372.1" y="-1.2" width="7.9" height="2" fill="#2448c0"/>
<path d="M373.5,1.2 h5.2 v3.6 h-1 v-0.9 h-3.2 v0.9 h-1 Z" fill="#f2f7ff"/><rect x="374.5" y="2.0999999999999996" width="3.2" height="0.8" fill="#3a66dc" opacity="0.6"/>
<rect x="364.2" y="6.3" width="7.9" height="7.4" fill="#3a66dc"/><rect x="364.2" y="6.3" width="7.9" height="2" fill="#2448c0"/>
<path d="M365.59999999999997,8.7 h5.2 v3.6 h-1 v-0.9 h-3.2 v0.9 h-1 Z" fill="#f2f7ff"/><rect x="366.59999999999997" y="9.6" width="3.2" height="0.8" fill="#3a66dc" opacity="0.6"/>
<rect x="372.1" y="6.3" width="7.9" height="7.4" fill="#3f9f1f"/><rect x="372.1" y="6.3" width="7.9" height="2" fill="#2c8a10"/>
<path d="M373.5,8.7 h5.2 v3.6 h-1 v-0.9 h-3.2 v0.9 h-1 Z" fill="#f2f7ff"/><rect x="374.5" y="9.6" width="3.2" height="0.8" fill="#3f9f1f" opacity="0.6"/>
</g><g shape-rendering="crispEdges">
<rect x="389" y="0" width="1" height="16" fill="#a0a0a0"/>
<rect x="394" y="0" width="25" height="17" fill="#f9f9f9"/>
<rect x="394" y="0" width="1" height="16" fill="#b0b0b0"/>
<rect x="402" y="0" width="1" height="14" fill="#4a4a4a"/><rect x="400" y="11" width="14" height="1" fill="#4a4a4a"/>
<rect x="412" y="10" width="1" height="3" fill="#4a4a4a"/><rect x="401" y="0" width="3" height="1" fill="#6a6a6a"/>
</g><g shape-rendering="auto">
<path d="M407.4,3 L411.4,6 L407.4,9 Z" fill="#7fe08a" stroke="#18961e" stroke-width="1"/>
</g><g shape-rendering="crispEdges">
<rect x="422" y="0" width="25" height="17" fill="#f9f9f9"/>
<rect x="422" y="0" width="1" height="16" fill="#b0b0b0"/>
<rect x="430" y="0" width="1" height="14" fill="#4a4a4a"/><rect x="428" y="11" width="14" height="1" fill="#4a4a4a"/>
<rect x="440" y="10" width="1" height="3" fill="#4a4a4a"/><rect x="429" y="0" width="3" height="1" fill="#6a6a6a"/>
<rect x="436" y="0" width="1" height="10" fill="#2060b0"/>
</g><g shape-rendering="auto">
<path d="M437.6,5.5 L440.6,3.2 L440.6,7.8 Z" fill="#d04010"/><rect x="440" y="5" width="2.4" height="1" fill="#d04010"/>
</g><g shape-rendering="crispEdges">
<rect x="451" y="0" width="1" height="16" fill="#a0a0a0"/>
</g><g shape-rendering="auto">
<path d="M461.5,-2 L470,-2 L470,10.5 L461.5,10.5 Z" fill="#f4f4f4" stroke="#8a8a8a" stroke-width="1"/><path d="M464.5,-3 L472,-3 L473.5,-1 L473.5,8 L464.5,8 Z" fill="#fafafa" stroke="#8a8a8a" stroke-width="1"/>
<path d="M469.4,4.6 L472.8,4.6 L472.8,8.4 L476.6,8.4 L476.6,11.8 L472.8,11.8 L472.8,15.4 L469.4,15.4 L469.4,11.8 L465.6,11.8 L465.6,8.4 L469.4,8.4 Z" fill="#36d036" stroke="#0e8a14" stroke-width="1" stroke-linejoin="round"/>
<path d="M470.4,5.6 L471.6,5.6 L471.6,9.4 L475.4,9.4 L475.4,10.4 L466.8,10.4 L466.8,9.4 L470.4,9.4 Z" fill="#8af08a" opacity="0.7"/>
</g><g shape-rendering="crispEdges">
<rect x="483" y="5" width="5" height="1" fill="#000"/>
<rect x="484" y="6" width="3" height="1" fill="#000"/>
<rect x="485" y="7" width="1" height="1" fill="#000"/>
</g><g shape-rendering="auto">
<circle cx="506.9" cy="5.7" r="7.8" fill="url(#clock)"/><circle cx="506.9" cy="5.7" r="5.1" fill="#f4f8ff"/>
<path d="M507,1.6 L507,5.6 L510,6.6" fill="none" stroke="#404860" stroke-width="1"/>
<circle cx="507" cy="1.2" r="0.5" fill="#8090b0"/><circle cx="507" cy="9.6" r="0.5" fill="#8090b0"/><circle cx="502.8" cy="5.4" r="0.5" fill="#8090b0"/><circle cx="511.2" cy="5.4" r="0.5" fill="#8090b0"/>
</g><g shape-rendering="crispEdges">
<rect x="522" y="5" width="5" height="1" fill="#000"/>
<rect x="523" y="6" width="3" height="1" fill="#000"/>
<rect x="524" y="7" width="1" height="1" fill="#000"/>
<rect x="538" y="-2" width="16" height="15" fill="#4a86d2"/><rect x="539" y="2" width="14" height="10" fill="#fbfdff"/><rect x="539" y="7" width="14" height="1" fill="#5a92da"/>
</g><g shape-rendering="auto">
<path d="M540,5.2 L542,5.2 L544,3.6 L546,4.4 L548.4,4.4 L551.6,3.4" fill="none" stroke="#9a2408" stroke-width="1.2"/>
<path d="M540.6,10.6 L543,9.6 L545.6,10.6 L548.6,8.4 L551.6,10.6" fill="none" stroke="#0e8a2a" stroke-width="1.2"/>
</g><g shape-rendering="crispEdges">
<rect x="561" y="5" width="5" height="1" fill="#000"/>
<rect x="562" y="6" width="3" height="1" fill="#000"/>
<rect x="563" y="7" width="1" height="1" fill="#000"/>
<rect x="572" y="0" width="1" height="18" fill="#a0a0a0"/>
<rect x="576" y="0" width="3" height="1" fill="#b4b4b4"/>
<rect x="576" y="2" width="3" height="1" fill="#b4b4b4"/>
<rect x="576" y="4" width="3" height="1" fill="#b4b4b4"/>
<rect x="576" y="6" width="3" height="1" fill="#b4b4b4"/>
<rect x="576" y="8" width="3" height="1" fill="#b4b4b4"/>
<rect x="576" y="10" width="3" height="1" fill="#b4b4b4"/>
<rect x="576" y="12" width="3" height="1" fill="#b4b4b4"/>
<rect x="576" y="14" width="3" height="1" fill="#b4b4b4"/>
<rect x="582" y="0" width="25" height="17" fill="#f9f9f9"/>
<rect x="582" y="0" width="1" height="16" fill="#b0b0b0"/>
</g><g shape-rendering="auto">
<path d="M590.2,-3 L590.2,9.6 L593,7 L595.4,12.8 L597.4,12 L595,6.4 L598.6,6.2 Z" fill="#474747"/>
</g><g shape-rendering="crispEdges">
<rect x="622" y="0" width="1" height="5" fill="#555"/><rect x="622" y="8" width="1" height="6" fill="#555"/><rect x="615" y="6" width="6" height="1" fill="#555"/><rect x="624" y="6" width="6" height="1" fill="#555"/><rect x="622" y="6" width="1" height="1" fill="#999"/>
<rect x="639" y="0" width="1" height="16" fill="#a0a0a0"/>
<rect x="656" y="0" width="1" height="13" fill="#555"/>
<rect x="679" y="6" width="12" height="1" fill="#555"/>
</g><g shape-rendering="auto">
<line x1="707" y1="12.8" x2="719" y2="1" stroke="#555" stroke-width="1.1"/>
<g stroke="#555" stroke-width="1" fill="none"><line x1="733" y1="8" x2="742.4" y2="-1"/><line x1="738" y1="12.8" x2="747" y2="4.2"/><path d="M735,12 C736.6,10 735.4,8 737,5.6"/><path d="M738.4,9.8 C740,7.8 738.8,5.8 740.4,3.4"/><path d="M741.6,7.4 C743.2,5.4 742,3.4 743.6,1"/><path d="M744.6,4.6 C746,3 745,1.4 746,-0.4"/></g>
<text x="744" y="14.6" font-size="6.5" font-weight="bold" fill="#444">E</text>
<line x1="762" y1="2.5" x2="775.5" y2="2.5" stroke="#666" stroke-width="1" stroke-dasharray="1 1" shape-rendering="crispEdges"/>
<line x1="762" y1="6.5" x2="775.5" y2="6.5" stroke="#666" stroke-width="1" stroke-dasharray="1 1" shape-rendering="crispEdges"/>
<line x1="762" y1="10.5" x2="775.5" y2="10.5" stroke="#666" stroke-width="1" stroke-dasharray="1 1" shape-rendering="crispEdges"/>
<rect x="771.4" y="9.5" width="6" height="6" fill="#f0f0f0"/><text x="771.6" y="14.6" font-size="6.5" font-weight="bold" fill="#444">F</text>
<text x="793" y="10.6" font-size="12" fill="#5a5a5a" stroke="#5a5a5a" stroke-width="0.5">A</text>
<rect x="819.5" y="-0.5" width="11" height="13" fill="none" stroke="#666" stroke-width="1" stroke-dasharray="1 1" shape-rendering="crispEdges"/>
<text x="821" y="10.9" font-size="11" font-weight="bold" fill="#555" textLength="7.8" lengthAdjust="spacingAndGlyphs">T</text>
<path d="M846.2,3.3 L849.6,-0.6 L853.2,3.3 L849.6,4.7 Z" fill="#4a4a4a"/><path d="M853.2,9.3 L856.7,7.9 L860.1,9.3 L856.7,13 Z" fill="#4a4a4a"/><path d="M848.3,7.4 L850.6,9.4 L854.8,4.2" fill="none" stroke="#4a4a4a" stroke-width="1.4"/>
</g><g shape-rendering="crispEdges">
<rect x="867" y="5" width="5" height="1" fill="#000"/>
<rect x="868" y="6" width="3" height="1" fill="#000"/>
<rect x="869" y="7" width="1" height="1" fill="#000"/>
<rect x="878" y="0" width="1" height="18" fill="#a0a0a0"/>
<rect x="882" y="0" width="3" height="1" fill="#b4b4b4"/>
<rect x="882" y="2" width="3" height="1" fill="#b4b4b4"/>
<rect x="882" y="4" width="3" height="1" fill="#b4b4b4"/>
<rect x="882" y="6" width="3" height="1" fill="#b4b4b4"/>
<rect x="882" y="8" width="3" height="1" fill="#b4b4b4"/>
<rect x="882" y="10" width="3" height="1" fill="#b4b4b4"/>
<rect x="882" y="12" width="3" height="1" fill="#b4b4b4"/>
<rect x="882" y="14" width="3" height="1" fill="#b4b4b4"/>
</g>
<g shape-rendering="crispEdges"><rect x="1056" y="0" width="1" height="16" fill="#a0a0a0"/><rect x="1057" y="0" width="25" height="16" fill="#f9f9f9"/><rect x="1139" y="0" width="1" height="18" fill="#a0a0a0"/></g>
<text x="893.3000000000001" y="9.6" font-size="9.4" fill="#444" textLength="12.7" lengthAdjust="spacingAndGlyphs">M1</text>
<text x="921.6" y="9.6" font-size="9.4" fill="#444" textLength="12.3" lengthAdjust="spacingAndGlyphs">M5</text>
<text x="947.3000000000001" y="9.6" font-size="9.4" fill="#444" textLength="17.7" lengthAdjust="spacingAndGlyphs">M15</text>
<text x="975.3000000000001" y="9.6" font-size="9.4" fill="#444" textLength="17.8" lengthAdjust="spacingAndGlyphs">M30</text>
<text x="1005.8000000000001" y="9.6" font-size="9.4" fill="#444" textLength="12.6" lengthAdjust="spacingAndGlyphs">H1</text>
<text x="1032.8" y="9.6" font-size="9.4" fill="#444" textLength="13.4" lengthAdjust="spacingAndGlyphs">H4</text>
<text x="1062.3" y="9.6" font-size="9.4" fill="#444" textLength="12.2" lengthAdjust="spacingAndGlyphs">D1</text>
<text x="1089.6" y="9.6" font-size="9.4" fill="#444" textLength="14.6" lengthAdjust="spacingAndGlyphs">W1</text>
<text x="1116.1999999999998" y="9.6" font-size="9.4" fill="#444" textLength="15.1" lengthAdjust="spacingAndGlyphs">MN</text>
<g shape-rendering="auto">
<line x1="1606.8" y1="6.4" x2="1602.2" y2="10.8" stroke="#2a5fd0" stroke-width="2"/>
<circle cx="1609.6" cy="3.2" r="3.9" fill="#f4f7ff" stroke="#2f66d8" stroke-width="1.1"/>
<path d="M1632,3.4 C1624.6,3.4 1624.6,12 1630,12 L1629.6,14.4 L1632.6,12 C1640,12 1640,3.4 1632,3.4 Z" fill="#e4e5ea" stroke="#a8a8a8" stroke-width="0.8"/>
<circle cx="1640.4" cy="3.4" r="8.1" fill="url(#redb)"/>
<text x="1636.6" y="8" font-size="12" font-weight="bold" font-family="Liberation Serif, serif" fill="#fff">1</text>
</g>
</svg>
</body></html>
